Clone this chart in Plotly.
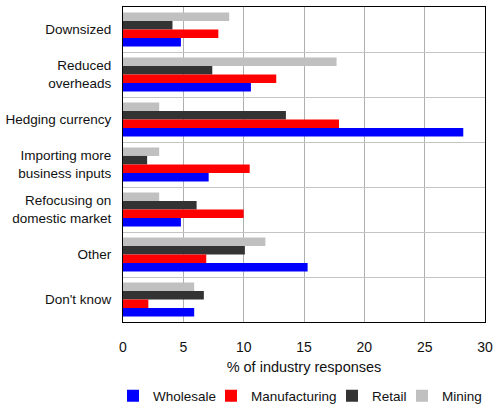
import plotly.graph_objects as go

categories = ["Downsized", "Reduced<br>overheads", "Hedging currency",
              "Importing more<br>business inputs", "Refocusing on<br>domestic market",
              "Other", "Don't know"]
mining = [8.8, 17.7, 3.0, 3.0, 3.0, 11.8, 5.9]
retail = [4.1, 7.4, 13.5, 2.0, 6.1, 10.1, 6.7]
manufacturing = [7.9, 12.7, 17.9, 10.5, 10.0, 6.9, 2.1]
wholesale = [4.8, 10.6, 28.2, 7.1, 4.8, 15.3, 5.9]
x_ticks = [0, 5, 10, 15, 20, 25, 30]

series = [
    ("Mining", mining, "#C0C0C0", "legend4"),
    ("Retail", retail, "#333333", "legend3"),
    ("Manufacturing", manufacturing, "#FF0000", "legend2"),
    ("Wholesale", wholesale, "#0000FF", "legend"),
]

fig = go.Figure()
for name, vals, col, leg in series:
    fig.add_trace(go.Bar(
        y=categories, x=vals, name=name, orientation="h", legend=leg,
        showlegend=True, marker=dict(color=col, line=dict(width=0)),
    ))

W, H = 493, 405
leg_left_px = {"legend": 113, "legend2": 211, "legend3": 332, "legend4": 402}
leg_common = dict(orientation="h", xref="container", yref="container",
                  xanchor="left", y=(H - 396) / H, yanchor="middle",
                  itemwidth=30, font=dict(size=13.5), itemclick=False,
                  itemdoubleclick=False, bgcolor="rgba(0,0,0,0)")

fig.update_layout(
    width=W, height=H, showlegend=True,
    margin=dict(l=123, r=8, t=7, b=83, autoexpand=False),
    barmode="group", bargap=0.24, bargroupgap=0,
    plot_bgcolor="white", paper_bgcolor="white",
    font=dict(family="Liberation Sans, Arial, sans-serif", size=13, color="#111111"),
    legend=dict(x=leg_left_px["legend"] / W, **leg_common),
    legend2=dict(x=leg_left_px["legend2"] / W, **leg_common),
    legend3=dict(x=leg_left_px["legend3"] / W, **leg_common),
    legend4=dict(x=leg_left_px["legend4"] / W, **leg_common),
    xaxis=dict(range=[0, 30], tickvals=x_ticks, showgrid=True, gridcolor="#B0B0B0",
               gridwidth=1, showline=True, mirror=True, linecolor="black", linewidth=1,
               ticks="", zeroline=False, ticklabelstandoff=12, tickfont=dict(size=14),
               title=dict(text="% of industry responses", standoff=8,
                          font=dict(size=14.5))),
    yaxis=dict(autorange="reversed", tickson="boundaries", showgrid=True,
               gridcolor="#C4C4C4", gridwidth=1, showline=True, mirror=True,
               linecolor="black", linewidth=1, ticks="", ticklabelstandoff=8,
               tickfont=dict(size=13.5)),
)

fig.write_html("out.html")
